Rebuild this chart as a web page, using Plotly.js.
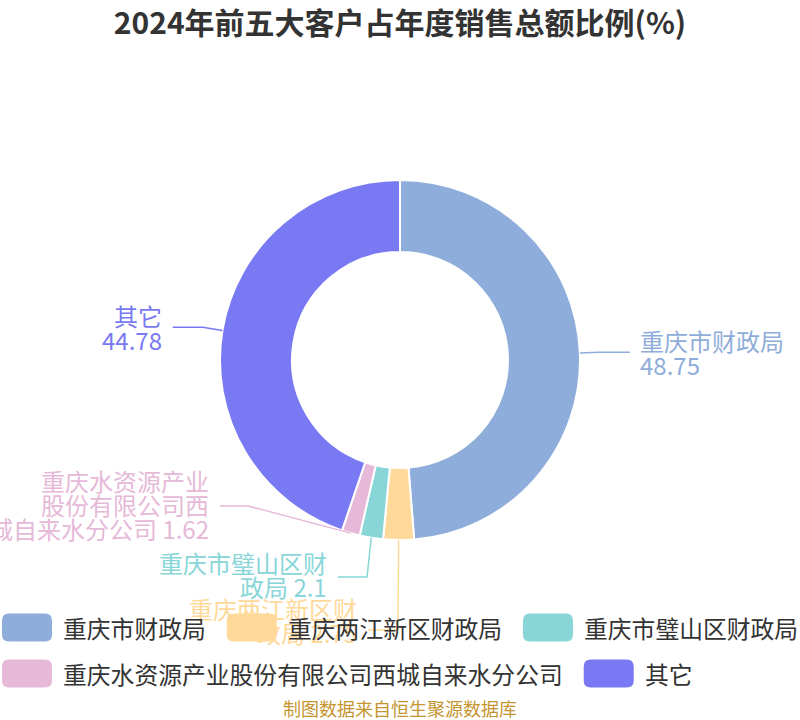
<!DOCTYPE html>
<html><head><meta charset="utf-8">
<script src="https://cdn.plot.ly/plotly-3.0.1.min.js"></script>
<style>html,body{margin:0;padding:0;background:#fff}#chart{width:800px;height:720px}</style>
</head><body><div id="chart"></div>
<script>
// ---- data ----
const categories = ['重庆市财政局', '重庆两江新区财政局', '重庆市璧山区财政局', '重庆水资源产业股份有限公司西城自来水分公司', '其它'];
const values = [48.75, 2.75, 2.1, 1.62, 44.78];
const titleText = '2024年前五大客户占年度销售总额比例(%)';
const sourceText = '制图数据来自恒生聚源数据库';

// ---- styles / layout ----
const colors = ['#8FADDA', '#FFD999', '#88D6D8', '#E6B9D8', '#797AF3'];
const W = 800, H = 720, CX = 400, CY = 360, R = 180;
const FONT = '"Noto Sans CJK SC", "Noto Sans", sans-serif';
const LABEL_SIZE = 24, LINE_H = 24;
// side labels: radial elbow; bottom labels: guided placement (avoid overlap)
const labelGuide = [
  {mode: 'side'},
  {mode: 'wrap', elbow: [398, 630], end: [368, 630], textCY: 620},
  {mode: 'wrap', elbow: [367, 577], end: [338, 577], textCY: 574.5},
  {mode: 'wrap', elbow: [248, 506], end: [220, 506], textCY: 504.5},
  {mode: 'side'}
];

const px = x => x / W;
const py = y => 1 - y / H;

const canvas = document.createElement('canvas');
const ctx = canvas.getContext('2d');
function textW(t, size) { ctx.font = size + 'px ' + FONT; return ctx.measureText(t).width; }

const total = values.reduce((a, b) => a + b, 0);
const annotations = [];
const shapes = [];

let cum = 0;
values.forEach((v, i) => {
  const midDeg = (cum + v / 2) / total * 360;
  cum += v;
  const th = midDeg * Math.PI / 180;
  const s = Math.sin(th), c = Math.cos(th);
  const anchor = [CX + R * s, CY - R * c];
  const g = labelGuide[i];
  let elbow, end, lines, right, textCY;
  if (g.mode === 'side') {
    elbow = [CX + (R + 20) * s, CY - (R + 20) * c];
    right = s < 0;
    end = [elbow[0] + (right ? -30 : 30), elbow[1]];
    lines = [categories[i], String(values[i])];
    textCY = end[1];
  } else {
    elbow = g.elbow; end = g.end; right = true; textCY = g.textCY;
    const name = categories[i];
    lines = [];
    for (let k = 0; k < name.length; k += 7) lines.push(name.slice(k, k + 7));
    lines[lines.length - 1] += ' ' + values[i];
  }
  shapes.push({
    type: 'path', xref: 'paper', yref: 'paper', layer: 'above',
    path: `M ${px(anchor[0])},${py(anchor[1])} L ${px(elbow[0])},${py(elbow[1])} L ${px(end[0])},${py(end[1])}`,
    line: {color: colors[i], width: 1.5}
  });
  const tx = end[0] + (right ? -10 : 9);
  const n = lines.length;
  lines.forEach((ln, k) => {
    const y = textCY + (k - (n - 1) / 2) * LINE_H;
    annotations.push({
      xref: 'paper', yref: 'paper', x: px(tx), y: py(y),
      xanchor: right ? 'right' : 'left', yanchor: 'middle', showarrow: false,
      text: ln, borderpad: 0,
      font: {family: FONT, size: LABEL_SIZE, color: colors[i]}
    });
  });
});

// ---- custom legend (rounded swatches) ----
const LG = {x0: 2, rowY: [627.5, 673.5], sw: 50, sh: 28, rad: 7, gapText: 10, gapItem: 22, size: 23.8};
let lx = LG.x0, row = 0;
categories.forEach((name, i) => {
  const tw = textW(name, LG.size);
  const itemW = LG.sw + LG.gapText + tw;
  if (lx + itemW > W + 4 && lx > LG.x0) { row++; lx = LG.x0; }
  const yc = LG.rowY[row];
  const x0 = lx, x1 = lx + LG.sw, y0 = yc - LG.sh / 2, y1 = yc + LG.sh / 2, r = LG.rad;
  const P = (x, y) => `${px(x)},${py(y)}`;
  shapes.push({
    type: 'path', xref: 'paper', yref: 'paper', layer: 'above',
    path: `M ${P(x0 + r, y0)} L ${P(x1 - r, y0)} Q ${P(x1, y0)} ${P(x1, y0 + r)} L ${P(x1, y1 - r)} Q ${P(x1, y1)} ${P(x1 - r, y1)} L ${P(x0 + r, y1)} Q ${P(x0, y1)} ${P(x0, y1 - r)} L ${P(x0, y0 + r)} Q ${P(x0, y0)} ${P(x0 + r, y0)} Z`,
    fillcolor: colors[i], line: {width: 0}
  });
  annotations.push({
    xref: 'paper', yref: 'paper', x: px(x1 + LG.gapText), y: py(yc),
    xanchor: 'left', yanchor: 'middle', showarrow: false, text: name, borderpad: 0,
    font: {family: FONT, size: LG.size, color: '#333333'}
  });
  lx += itemW + LG.gapItem;
});

// footer
annotations.push({
  xref: 'paper', yref: 'paper', x: 0.5, y: py(708), xanchor: 'center', yanchor: 'middle',
  showarrow: false, text: sourceText, borderpad: 0, font: {family: FONT, size: 18, color: '#C4952F'}
});

const trace = {
  type: 'pie', labels: categories, values: values, sort: false, direction: 'clockwise',
  rotation: 0, hole: 0.6, textinfo: 'none', hoverinfo: 'none',
  marker: {colors: colors, line: {color: '#ffffff', width: 2}},
  domain: {x: [px(CX - R), px(CX + R)], y: [py(CY + R), py(CY - R)]},
  showlegend: false
};

const layout = {
  width: W, height: H, margin: {l: 0, r: 0, t: 0, b: 0},
  paper_bgcolor: '#ffffff', plot_bgcolor: '#ffffff', showlegend: false,
  title: {text: titleText, x: 0.5, xanchor: 'center', y: py(23), yanchor: 'middle', yref: 'container',
          font: {family: FONT, size: 30, color: '#333333', weight: 'bold'}},
  annotations: annotations, shapes: shapes
};

Plotly.newPlot('chart', [trace], layout, {staticPlot: true, displayModeBar: false});
</script>
</body></html>
